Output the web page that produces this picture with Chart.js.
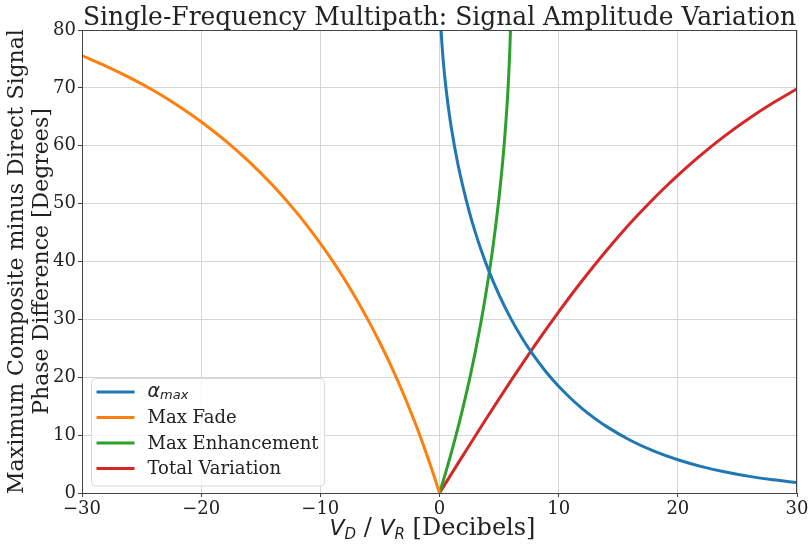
<!DOCTYPE html>
<html>
<head>
<meta charset="utf-8">
<title>Single-Frequency Multipath</title>
<script src="https://cdn.jsdelivr.net/npm/chart.js@4.4.1/dist/chart.umd.min.js"></script>
<style>
  body { margin: 0; background: #fff; }
  canvas { display: block; }
</style>
</head>
<body>
<canvas id="chart" width="812" height="544"></canvas>
<script>
// x values are V_D / V_R in dB, y values in degrees
var alphaX = [0, 0.05, 0.1, 0.2, 0.35, 0.5, 0.75, 1, 1.5, 2, 2.5, 3, 3.5, 4, 5, 6, 7, 8, 9, 10, 11, 12, 13, 14, 16, 18, 20, 22, 24, 26, 28, 30];
var alphaY = [90, 83.86, 81.33, 77.75, 73.84, 70.75, 66.53, 63.03, 57.28, 52.62, 48.59, 45.07, 41.94, 39.12, 34.22, 30.08, 26.53, 23.46, 20.78, 18.43, 16.37, 14.55, 12.94, 11.51, 9.12, 7.23, 5.74, 4.56, 3.62, 2.87, 2.28, 1.81];

var fadeX = [-30, -28, -26, -24, -22, -20, -18, -16, -14, -12, -10, -9, -8, -7, -6, -5, -4, -3, -2, -1.5, -1, -0.5, 0];
var fadeY = [75.56, 73.77, 71.78, 69.54, 67.01, 64.16, 60.94, 57.30, 53.17, 48.49, 43.14, 40.18, 37.01, 33.59, 29.92, 25.96, 21.66, 16.98, 11.87, 9.13, 6.24, 3.21, 0];

var enhX = [0, 0.5, 1, 1.5, 2, 2.5, 3, 3.5, 4, 4.5, 5, 5.25, 5.5, 5.75, 5.9, 5.95, 6.0, 6.02];
var enhY = [0, 3.40, 7.01, 10.87, 15.01, 19.48, 24.36, 29.75, 35.80, 42.75, 51.10, 56.13, 62.09, 69.83, 76.51, 79.7, 84.42, 89.0];

var totalX = [0, 1, 2, 3, 4, 5, 6, 7, 8, 9, 10, 11, 12, 13, 14, 15, 16, 17, 18, 19, 20, 22, 24, 26, 28, 30];
var totalY = [0, 3.30, 6.58, 9.85, 13.08, 16.27, 19.41, 22.49, 25.50, 28.44, 31.30, 34.08, 36.76, 39.36, 41.86, 44.27, 46.60, 48.80, 50.93, 52.96, 54.90, 58.52, 61.80, 64.76, 67.43, 69.83];

var seriesNames = ['alpha', 'Max Fade', 'Max Enhancement', 'Total Variation'];
var seriesColors = ['#1f77b4', '#ff7f0e', '#2ca02c', '#d62728'];

var xTicks = [-30, -20, -10, 0, 10, 20, 30];
var yTicks = [0, 10, 20, 30, 40, 50, 60, 70, 80];

var SERIF = '"DejaVu Serif", serif';
var SANS = '"DejaVu Sans", sans-serif';

function pts(xs, ys) {
  return xs.map(function (x, i) { return { x: x, y: ys[i] }; });
}

function series(i, xs, ys) {
  return {
    label: seriesNames[i],
    data: pts(xs, ys),
    borderColor: seriesColors[i],
    backgroundColor: seriesColors[i],
    borderWidth: 3,
    pointRadius: 0,
    fill: false,
    cubicInterpolationMode: 'monotone'
  };
}

// text made of runs with their own font and vertical shift
function drawRuns(ctx, runs, x, y, align) {
  var w = 0;
  runs.forEach(function (r) { ctx.font = r.font; r.w = ctx.measureText(r.text).width; w += r.w; });
  var cx = align === 'center' ? x - w / 2 : x;
  runs.forEach(function (r) {
    ctx.font = r.font;
    ctx.fillText(r.text, cx, y + (r.dy || 0));
    cx += r.w;
  });
}

var decor = {
  id: 'decor',
  afterDatasetsDraw: function (chart) {
    var ctx = chart.ctx, a = chart.chartArea;
    ctx.save();
    // frame
    ctx.strokeStyle = '#444';
    ctx.lineWidth = 1;
    ctx.strokeRect(Math.round(a.left) + 0.5, Math.round(a.top) + 0.5,
      Math.round(a.right - a.left) - 1, Math.round(a.bottom - a.top));

    // legend
    var lx = a.left + 9.5, ly = 378.5, lw = 233, lh = 107.5;
    ctx.beginPath();
    ctx.roundRect(lx, ly, lw, lh, 4);
    ctx.fillStyle = 'rgba(255,255,255,0.8)';
    ctx.fill();
    ctx.strokeStyle = '#d8d8d8';
    ctx.stroke();
    ctx.textBaseline = 'middle';
    ctx.fillStyle = '#222';
    chart.data.datasets.forEach(function (ds, i) {
      var cy = ly + 13.5 + i * 25.5;
      ctx.beginPath();
      ctx.moveTo(lx + 5, cy);
      ctx.lineTo(lx + 43, cy);
      ctx.strokeStyle = ds.borderColor;
      ctx.lineWidth = 3;
      ctx.stroke();
      if (i === 0) {
        drawRuns(ctx, [
          { text: '\u03b1', font: 'italic 19px ' + SANS },
          { text: 'max', font: 'italic 13px ' + SANS, dy: 4 }
        ], lx + 56, cy, 'left');
      } else {
        ctx.font = '18px ' + SERIF;
        ctx.fillText(ds.label, lx + 56, cy + 1);
      }
    });
    ctx.restore();
  },
  afterDraw: function (chart) {
    var ctx = chart.ctx, a = chart.chartArea;
    var midX = (a.left + a.right) / 2, midY = (a.top + a.bottom) / 2;
    ctx.save();
    ctx.fillStyle = '#222';
    ctx.textBaseline = 'alphabetic';

    // title, squeezed to the plot width
    var title = 'Single-Frequency Multipath: Signal Amplitude Variation';
    ctx.font = '26px ' + SERIF;
    var tw = ctx.measureText(title).width;
    var target = a.right - a.left - 2;
    var sx = Math.min(1, target / tw);
    ctx.save();
    ctx.translate(midX, 25);
    ctx.scale(sx, 1);
    ctx.textAlign = 'center';
    ctx.fillText(title, 0, 0);
    ctx.restore();

    // x axis label
    ctx.textAlign = 'left';
    drawRuns(ctx, [
      { text: 'V', font: 'italic 22px ' + SANS },
      { text: 'D', font: 'italic 15px ' + SANS, dy: 4 },
      { text: ' / ', font: '24px ' + SERIF },
      { text: 'V', font: 'italic 22px ' + SANS },
      { text: 'R', font: 'italic 15px ' + SANS, dy: 4 },
      { text: ' [Decibels]', font: '24px ' + SERIF }
    ], midX - 7, 535, 'center');

    // y axis label, two lines
    ctx.save();
    ctx.translate(0, midY);
    ctx.rotate(-Math.PI / 2);
    ctx.textAlign = 'center';
    ctx.font = '22px ' + SERIF;
    ctx.fillText('Maximum Composite minus Direct Signal', 0, 23);
    ctx.fillText('Phase Difference [Degrees]', 0, 48);
    ctx.restore();
    ctx.restore();
  }
};

var chart = new Chart(document.getElementById('chart'), {
  type: 'line',
  data: {
    datasets: [
      series(0, alphaX, alphaY),
      series(1, fadeX, fadeY),
      series(2, enhX, enhY),
      series(3, totalX, totalY)
    ]
  },
  options: {
    responsive: false,
    animation: false,
    layout: { padding: { top: 30, right: 15, left: 0, bottom: 0 } },
    plugins: {
      legend: { display: false },
      title: { display: false },
      tooltip: { enabled: false }
    },
    scales: {
      x: {
        type: 'linear',
        min: -30,
        max: 30,
        afterBuildTicks: function (s) { s.ticks = xTicks.map(function (v) { return { value: v }; }); },
        afterFit: function (s) { s.height = 51; },
        grid: { color: '#d6d6d6', lineWidth: 1, tickLength: 4, tickColor: '#444' },
        border: { display: false },
        ticks: {
          color: '#222',
          padding: 2,
          maxRotation: 0,
          font: { family: SERIF, size: 18 },
          callback: function (v) { return String(v).replace('-', '\u2212'); }
        }
      },
      y: {
        type: 'linear',
        min: 0,
        max: 80,
        afterBuildTicks: function (s) { s.ticks = yTicks.map(function (v) { return { value: v }; }); },
        afterFit: function (s) { s.width = 82; },
        grid: { color: '#d6d6d6', lineWidth: 1, tickLength: 4, tickColor: '#444' },
        border: { display: false },
        ticks: {
          color: '#222',
          padding: 2,
          font: { family: SERIF, size: 18 }
        }
      }
    }
  },
  plugins: [decor]
});
</script>
</body>
</html>
